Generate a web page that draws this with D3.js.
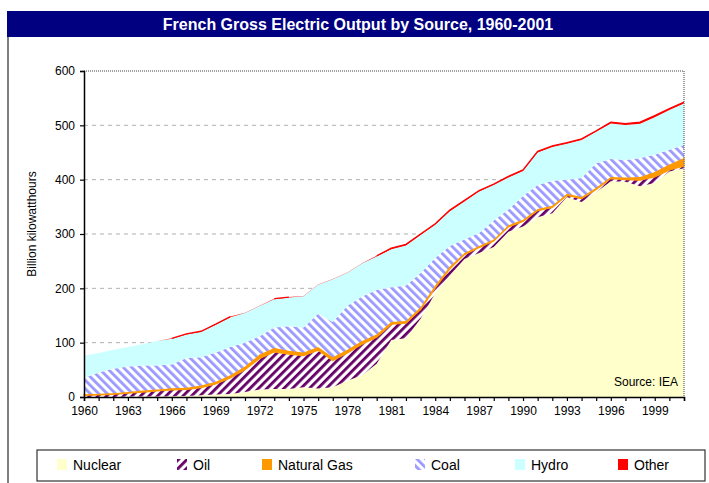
<!DOCTYPE html>
<html>
<head>
<meta charset="utf-8">
<script src="https://cdn.jsdelivr.net/npm/d3@7"></script>
<style>
  body { margin: 0; background: #fff; }
  svg { display: block; }
  text { font-family: "Liberation Sans", Arial, sans-serif; }
</style>
</head>
<body>
<div id="chart"></div>
<script>
// categories
const years = [1960, 1961, 1962, 1963, 1964, 1965, 1966, 1967, 1968, 1969,
  1970, 1971, 1972, 1973, 1974, 1975, 1976, 1977, 1978, 1979,
  1980, 1981, 1982, 1983, 1984, 1985, 1986, 1987, 1988, 1989,
  1990, 1991, 1992, 1993, 1994, 1995, 1996, 1997, 1998, 1999,
  2000, 2001];

// billion kWh
const nuclear = [0, 0, 0, 1, 1, 1, 1.5, 2, 3, 4.5,
  5.7, 9, 14, 14.5, 14.5, 18, 15.5, 18, 30, 40,
  61, 105, 108, 144, 191, 224, 254, 265, 276, 304,
  314, 331, 338, 368, 359, 377, 397, 396, 388, 394,
  415, 421];
const oil = [3, 4, 5, 6, 8, 10, 11.5, 12, 14, 19.5,
  29.3, 41, 57, 68.5, 64.5, 58, 70.5, 49, 51, 57,
  49, 29, 28, 17, 10, 12, 8, 10, 11, 9,
  9, 12, 11, 3, 6, 5, 5, 4, 11, 11,
  3, 4];
const naturalGas = [2, 2, 2, 2, 3, 3, 3, 3, 4, 4,
  5, 6, 7, 7, 6, 6, 6, 6, 6, 6,
  5, 4, 4, 4, 4, 4, 3, 3, 3, 3,
  3, 3, 3, 3, 3, 3, 3, 4, 6, 9,
  10, 15];
const coal = [30, 39, 45, 47, 46, 44, 44, 55, 52, 54,
  52, 44, 34, 38, 45, 46, 61, 65, 81, 82,
  82, 64, 65, 63, 51, 38, 25, 24, 35, 29,
  44, 44, 46, 26, 35, 45, 33, 32, 35, 32,
  27, 24];
const hydro = [41, 36, 35, 36, 39, 45, 47, 43, 47, 51,
  55, 54.5, 55.5, 52, 53, 57.5, 53.5, 78.5, 60.5, 60.5,
  61.5, 70, 74, 70, 61, 64, 70, 76, 65, 59,
  46, 60, 62, 66, 70, 58, 65.5, 64.5, 63, 69,
  73, 76];
const other = [0, 0, 0, 0, 0, 0, 1, 1, 1, 1,
  1, 0.5, 0.5, 1, 1, 0.5, 0.5, 0.5, 0.5, 0.5,
  1.5, 2, 2, 2, 2, 2, 2, 2, 2, 2,
  2, 2, 2, 2, 2, 2, 2.5, 2.5, 3, 3,
  3, 3];

const seriesNames = ['Nuclear', 'Oil', 'Natural Gas', 'Coal', 'Hydro', 'Other'];
const yTicks = [0, 100, 200, 300, 400, 500, 600];
const xTickLabels = ['1960', '1963', '1966', '1969', '1972', '1975', '1978',
  '1981', '1984', '1987', '1990', '1993', '1996', '1999'];

const width = 709;
const height = 483;
const margin = { top: 71, right: 23, bottom: 86, left: 84 };

const svg = d3.select('#chart')
  .append('svg')
  .attr('width', width)
  .attr('height', height);

const defs = svg.append('defs');

// Excel-like wide diagonal hatches
function hatch(id, color, angle) {
  const p = defs.append('pattern')
    .attr('id', id)
    .attr('patternUnits', 'userSpaceOnUse')
    .attr('width', 6)
    .attr('height', 6)
    .attr('patternTransform', `rotate(${angle})`);
  p.append('rect').attr('width', 6).attr('height', 6).attr('fill', '#fff');
  p.append('rect').attr('width', 2.8).attr('height', 6).attr('fill', color);
}
hatch('oilHatch', '#660066', 45);
hatch('coalHatch', '#9999ff', -45);

const fills = {
  'Nuclear': '#ffffcc',
  'Oil': 'url(#oilHatch)',
  'Natural Gas': '#ff9900',
  'Coal': 'url(#coalHatch)',
  'Hydro': '#ccffff',
  'Other': '#ff0000'
};

const table = years.map((yr, i) => ({
  year: yr,
  'Nuclear': nuclear[i],
  'Oil': oil[i],
  'Natural Gas': naturalGas[i],
  'Coal': coal[i],
  'Hydro': hydro[i],
  'Other': other[i]
}));

const stacked = d3.stack().keys(seriesNames)(table);

const x = d3.scaleLinear()
  .domain([years[0], years[years.length - 1]])
  .range([margin.left, width - margin.right - 2]);

const y = d3.scaleLinear()
  .domain([0, 600])
  .range([height - margin.bottom - 0, margin.top]);

// title bar
svg.append('rect')
  .attr('x', 7).attr('y', 11)
  .attr('width', width - 7).attr('height', 26)
  .attr('fill', '#000080');
svg.append('text')
  .attr('x', 358).attr('y', 30)
  .attr('text-anchor', 'middle')
  .attr('fill', '#fff')
  .attr('font-size', 16)
  .attr('font-weight', 'bold')
  .text('French Gross Electric Output by Source, 1960-2001');

// outer frame left edge
svg.append('line')
  .attr('x1', 8).attr('x2', 8)
  .attr('y1', 37).attr('y2', height)
  .attr('stroke', '#555').attr('stroke-width', 1.5);

// gridlines
svg.append('g')
  .selectAll('line')
  .data(yTicks.filter(t => t > 0 && t < 600))
  .enter()
  .append('line')
  .attr('x1', margin.left).attr('x2', x(2001))
  .attr('y1', d => y(d)).attr('y2', d => y(d))
  .attr('stroke', '#b0b0b0')
  .attr('stroke-dasharray', '4,4');

// stacked areas
const area = d3.area()
  .x(d => x(d.data.year))
  .y0(d => y(d[0]))
  .y1(d => y(d[1]));

svg.append('g')
  .selectAll('path')
  .data(stacked)
  .enter()
  .append('path')
  .attr('d', area)
  .attr('fill', d => fills[d.key])
  .attr('stroke', d => d.key === 'Natural Gas' ? '#ff9900' : 'none')
  .attr('stroke-width', 1.2);

// thin red top for "Other" (only where it is wide enough to show)
const otherLayer = stacked[seriesNames.indexOf('Other')];
svg.append('path')
  .datum(otherLayer)
  .attr('d', d3.line()
    .defined(d => d.data['Other'] >= 1)
    .x(d => x(d.data.year))
    .y(d => y(d[1])))
  .attr('fill', 'none')
  .attr('stroke', '#ff0000')
  .attr('stroke-width', 1.3);

// plot border top + right (dotted)
svg.append('path')
  .attr('d', `M${margin.left},${y(600)}H${x(2001)}V${y(0)}`)
  .attr('fill', 'none')
  .attr('stroke', '#808080')
  .attr('stroke-width', 1.5)
  .attr('stroke-dasharray', '1,1');

// axes
const yAxis = svg.append('g')
  .attr('transform', `translate(${margin.left},0)`)
  .call(d3.axisLeft(y).tickValues(yTicks).tickSize(4).tickPadding(5));

const xAxis = svg.append('g')
  .attr('transform', `translate(0,${y(0)})`)
  .call(d3.axisBottom(x)
    .tickValues(years)
    .tickSize(4)
    .tickPadding(5)
    .tickFormat(d => xTickLabels.includes(String(d)) ? String(d) : ''));

[yAxis, xAxis].forEach(g => {
  g.select('.domain').attr('stroke', '#000').attr('stroke-width', 1.5);
  g.selectAll('.tick line').attr('stroke', '#000').attr('stroke-width', 1.2);
  g.selectAll('.tick text')
    .attr('fill', '#000')
    .attr('font-size', 12)
    .attr('font-family', '"Liberation Sans", Arial, sans-serif');
});

// y axis title
svg.append('text')
  .attr('transform', 'translate(36,224) rotate(-90)')
  .attr('text-anchor', 'middle')
  .attr('font-size', 12)
  .text('Billion kilowatthours');

// source note
svg.append('text')
  .attr('x', 678).attr('y', 386)
  .attr('text-anchor', 'end')
  .attr('font-size', 12)
  .text('Source: IEA');

// legend
const legend = svg.append('g');
legend.append('rect')
  .attr('x', 37).attr('y', 450)
  .attr('width', 668).attr('height', 31)
  .attr('fill', '#fff')
  .attr('stroke', '#333')
  .attr('stroke-width', 1.2);

const legendX = [57, 177, 262, 415, 515, 618];
const items = legend.selectAll('g.item')
  .data(seriesNames)
  .enter()
  .append('g')
  .attr('class', 'item')
  .attr('transform', (d, i) => `translate(${legendX[i]},459)`);

items.append('rect')
  .attr('width', 10)
  .attr('height', 11)
  .attr('fill', d => fills[d]);

items.append('text')
  .attr('x', 16)
  .attr('y', 10.5)
  .attr('font-size', 14)
  .text(d => d);
</script>
</body>
</html>
